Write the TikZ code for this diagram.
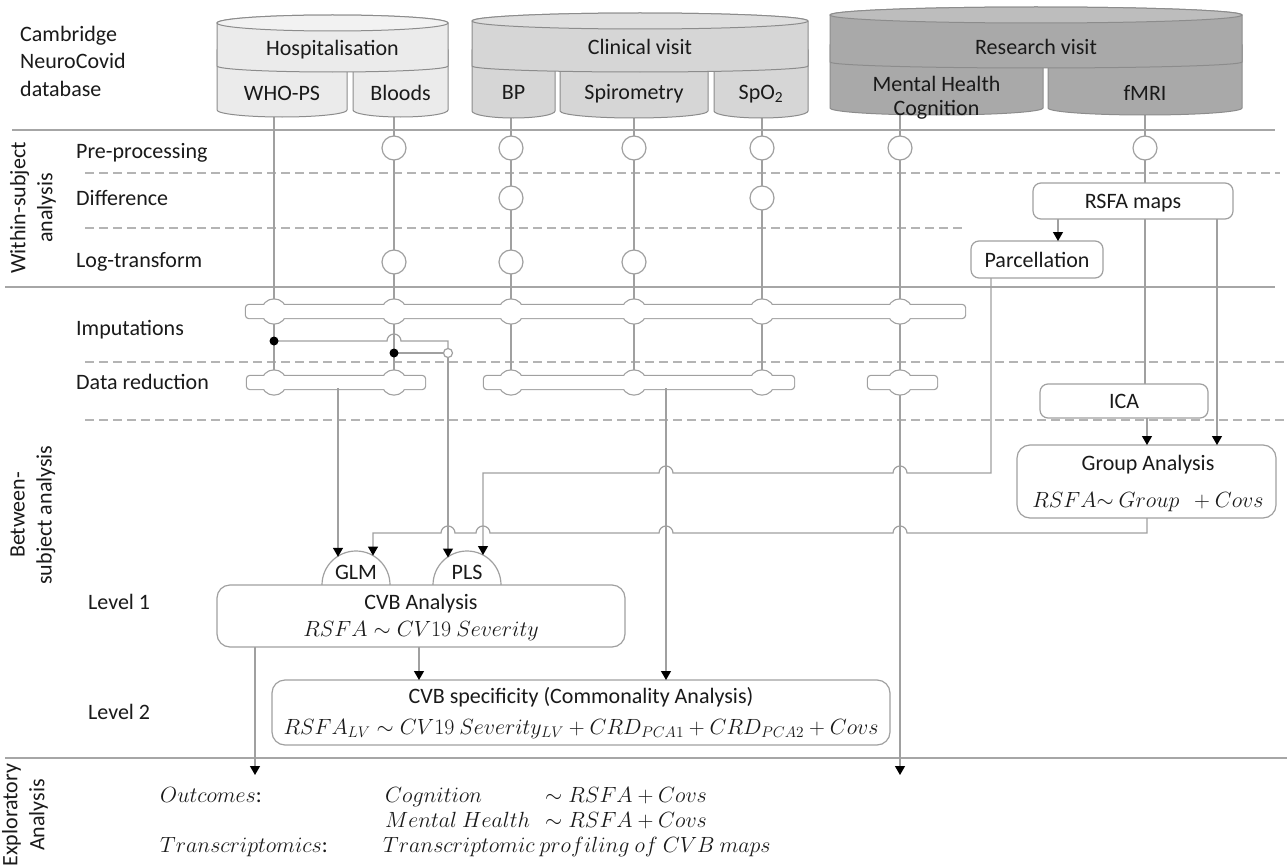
\RequirePackage{fix-cm}
\documentclass[tikz,border=0pt]{standalone}
\usepackage{fontspec}
\setmainfont{Carlito}
\usetikzlibrary{arrows.meta}
\definecolor{txt}{HTML}{1A1A1A}
\definecolor{lin}{HTML}{A0A0A0}
\definecolor{sepc}{HTML}{A6A6A6}
\definecolor{dsh}{HTML}{B4B4B4}
\definecolor{outl}{HTML}{8C8C8C}
\definecolor{hosp}{HTML}{EBEBEB}
\definecolor{hosptop}{HTML}{F2F2F2}
\definecolor{clin}{HTML}{D6D6D6}
\definecolor{clintop}{HTML}{DEDEDE}
\definecolor{resv}{HTML}{A9A9A9}
\definecolor{restop}{HTML}{BDBDBD}
\newcommand{\fsz}{\fontsize{22}{27}\selectfont}
\newcommand\topcyl[6]{%
  \filldraw[cyl, fill=#5] (#1,#3) -- (#1,#4) arc[start angle=180, end angle=0, x radius={(#2-#1)/2}, y radius=6] -- (#2,#3) arc[start angle=0, end angle=-180, x radius={(#2-#1)/2}, y radius=8] -- cycle;
  \filldraw[cyl, fill=#6] ({(#1+#2)/2},#3) ellipse[x radius={(#2-#1)/2}, y radius=8];
}
\newcommand\subcyl[5]{%
  \filldraw[cyl, fill=#5] (#1,#3) -- (#1,#4) arc[start angle=180, end angle=0, x radius={(#2-#1)/2}, y radius=7] -- (#2,#3) -- cycle;
}
\newcommand\busbar[4]{%
  \draw[busout, rounded corners=3pt] (#1,{#3-6.5}) rectangle (#2,{#3+6.5});
  \foreach \bx in {#4} \draw[busout] (\bx,#3) circle[radius=12];
  \fill[white, rounded corners=3pt] (#1,{#3-6.5}) rectangle (#2,{#3+6.5});
  \foreach \bx in {#4} \fill[white] (\bx,#3) circle[radius=12];
}
\begin{document}
\begin{tikzpicture}[x=1pt,y=-1pt,
  every node/.style={font=\fsz, text=txt, inner sep=0pt},
  lab/.style={anchor=base west},
  ctr/.style={anchor=base},
  sepline/.style={draw=sepc, line width=1.5pt},
  dsep/.style={draw=dsh, line width=1.2pt, dash pattern=on 9pt off 5pt},
  conn/.style={draw=lin, line width=1.2pt},
  arr/.style={conn, -{Triangle[width=10pt,length=9pt,color=black]}},
  proc/.style={circle, draw=lin, fill=white, line width=1.2pt, minimum size=24pt},
  rbox/.style={draw=lin, fill=white, rounded corners=8pt, line width=1.2pt},
  bigbox/.style={rbox, rounded corners=13pt},
  cyl/.style={draw=outl, line width=1pt},
  busout/.style={draw=lin, line width=2.4pt},
]
\fill[white] (0,0) rectangle (1287,867);
\useasboundingbox (0,0) rectangle (1287,867);

% separators
\draw[sepline] (12,130) -- (1275,130);
\draw[dsep] (85,173) -- (1280,173);
\draw[dsep] (85,228) -- (965,228);
\draw[sepline] (5,287) -- (1275,287);
\draw[dsep] (85,362) -- (1287,362);
\draw[dsep] (85,420) -- (1287,420);
\draw[sepline] (5,758) -- (1287,758);

% left labels
\node[lab] at (20,42) {Cambridge};
\node[lab] at (20,69) {NeuroCovid};
\node[lab] at (20,96) {database};
\node[lab] (lpre) at (76,158) {Pre-processing};
\node[lab] (ldif) at (76,205) {Difference};
\node[lab] (llog) at (76,267) {Log-transform};
\node[lab] (limp) at (76,335) {Imputations};
\node[lab] (lred) at (76,389) {Data reduction};
\node[lab] (lv1) at (88,609) {Level 1};
\node[lab] (lv2) at (88,719) {Level 2};
\node[rotate=90, align=center] at (33,208) {Within-subject\\analysis};
\node[rotate=90, align=center] at (33,515) {Between-\\subject analysis};
\node[rotate=90, align=center] at (25,815) {Exploratory\\Analysis};

% vertical data lines (under everything)
\draw[conn] (274,112) -- (274,380);
\draw[conn] (394,112) -- (394,380);
\draw[conn] (511,112) -- (511,380);
\draw[conn] (634,112) -- (634,380);
\draw[conn] (762,112) -- (762,380);
\draw[arr] (900,112) -- (900,775);
\draw[conn] (1145,112) -- (1145,183);

% databases
\subcyl{217}{347}{50}{110}{hosp}
\subcyl{353}{448}{50}{110}{hosp}
\topcyl{217}{448}{23}{66}{hosp}{hosptop}
\subcyl{472}{555}{50}{111}{clin}
\subcyl{560}{708}{50}{111}{clin}
\subcyl{714}{808}{50}{111}{clin}
\topcyl{472}{808}{21}{66}{clin}{clintop}
\subcyl{830}{1043}{45}{108}{resv}
\subcyl{1048}{1242}{45}{108}{resv}
\topcyl{830}{1242}{15}{62}{resv}{restop}
\node[ctr] (hosp) at (332.5,56) {Hospitalisation};
\node[ctr] (who) at (282,100) {WHO-PS};
\node[ctr] (blood) at (400.5,100) {Bloods};
\node[ctr] (clin) at (640,55) {Clinical visit};
\node[ctr] (bp) at (513.5,99) {BP};
\node[ctr] (spir) at (634,99) {Spirometry};
\node[ctr] (spo) at (761,99) {SpO\textsubscript{2}};
\node[ctr] (res) at (1036,55) {Research visit};
\node[ctr] (mh) at (936.5,92) {Mental Health};
\node[ctr] (cog) at (936.5,115) {Cognition};
\node[ctr] (fmri) at (1145,100) {fMRI};

% processing circles
\foreach \x in {394,511,634,762,900,1145} \node[proc] at (\x,148) {};
\foreach \x in {511,762} \node[proc] at (\x,198) {};
\foreach \x in {394,511,634} \node[proc] at (\x,262) {};

% bus bars
\busbar{246}{965}{311.5}{274,394,511,634,762,900}
\busbar{247}{425}{382.5}{274,394}
\busbar{484}{794}{382.5}{511,634,762}
\busbar{868}{937}{382.5}{900}

% imputation junctions
\draw[conn] (274,341) -- (387,341) arc[start angle=180, end angle=360, radius=7] -- (448,341) -- (448,348.5);
\draw[conn] (394,353) -- (443.5,353);
\fill[black] (274,341) circle[radius=4.5];
\fill[black] (394,353) circle[radius=4.5];
\draw[conn, fill=white] (448,353) circle[radius=4.5];

% right side boxes
\node[rbox, minimum width=200pt, minimum height=36pt] (rsfa) at (1133,201) {};
\node[ctr] at (1133,208) {RSFA maps};
\node[rbox, minimum width=132pt, minimum height=37pt] (parc) at (1037,259.5) {};
\node[ctr] at (1037,267) {Parcellation};
\node[rbox, minimum width=168pt, minimum height=34pt] (ica) at (1124,401) {};
\node[ctr] at (1124,408) {ICA};
\node[bigbox, minimum width=259pt, minimum height=73pt] (grp) at (1146.5,481.5) {};
\node[ctr] at (1148,470) {Group Analysis};
\node[ctr] at (1148,507) {$RSFA{\sim}\ Group\ \ + Covs$};

\draw[arr] (1058,219) -- (1058,241);
\draw[conn] (1145,219) -- (1145,384);
\draw[arr] (1147,418) -- (1147,445);
\draw[arr] (1217,219) -- (1217,445);

% GLM / PLS
\draw[conn, fill=white] (322,585) arc[start angle=180, end angle=360, radius=34];
\draw[conn, fill=white] (433,585) arc[start angle=180, end angle=360, radius=34];
\node[ctr] (glm) at (356,579) {GLM};
\node[ctr] (pls) at (467,579) {PLS};

% level boxes
\node[bigbox, minimum width=408pt, minimum height=62pt] (cvb) at (421,616) {};
\node[ctr] at (421,609) {CVB Analysis};
\node[ctr] at (421,636) {$RSFA\sim CV19\ Severity$};
\node[bigbox, minimum width=618pt, minimum height=65pt] (cvs) at (581,712.5) {};
\node[ctr] at (581,703) {CVB specificity (Commonality Analysis)};
\node[ctr] at (581,734) {$RSFA_{LV}\sim CV19\ Severity_{LV}+CRD_{PCA1}+CRD_{PCA2}+Covs$};

% connectors to analyses
\draw[arr] (338,388) -- (338,556.8);
\draw[arr] (448,357.5) -- (448,557.5);
\draw[arr] (991,278) -- (991,473) -- (907,473) arc[start angle=0, end angle=-180, radius=7] -- (673,473) arc[start angle=0, end angle=-180, radius=7] -- (483,473) -- (483,555);
\draw[arr] (1147,518) -- (1147,533) -- (907,533) arc[start angle=0, end angle=-180, radius=7] -- (673,533) arc[start angle=0, end angle=-180, radius=7] -- (490,533) arc[start angle=0, end angle=-180, radius=7] -- (455,533) arc[start angle=0, end angle=-180, radius=7] -- (373,533) -- (373,555.6);
\draw[arr] (666,388) -- (666,680);
\draw[arr] (419,647) -- (419,680);
\draw[arr] (255,647) -- (255,775);

% exploratory
\node[lab] at (160,802) {$Outcomes$:};
\node[lab] at (385,802) {$Cognition$};
\node[lab] at (545,802) {$\sim RSFA + Covs$};
\node[lab] at (385,827) {$Mental\ Health$};
\node[lab] at (545,827) {$\sim RSFA + Covs$};
\node[lab] at (160,852) {$Transcriptomics$:};
\node[lab] at (383,852) {$Transcriptomic\ profiling\ of\ CVB\ maps$};
\end{tikzpicture}
\end{document}
